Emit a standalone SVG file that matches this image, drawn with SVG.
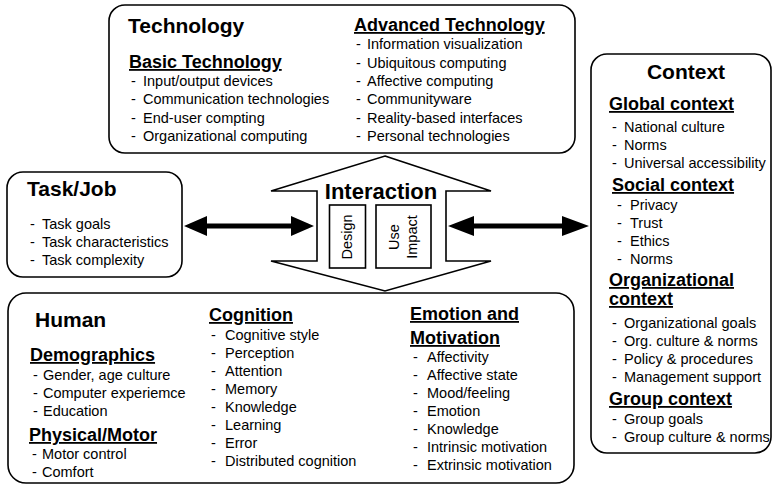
<svg xmlns="http://www.w3.org/2000/svg" width="773" height="486" viewBox="0 0 773 486">
  <style>
    .box { fill: #fff; stroke: #000; stroke-width: 1.6; }
    text { font-family: "Liberation Sans", Arial, Helvetica, sans-serif; fill: #000; }
    .h1 { font-size: 21px; font-weight: bold; }
    .h2 { font-size: 18px; font-weight: bold; text-decoration: underline; }
    .li { font-size: 14.5px; }
    .arrow { fill: #000; stroke: none; }
  </style>
  <rect width="773" height="486" fill="#fff"/>

  <!-- Technology -->
  <g id="technology">
    <rect class="box" x="109" y="5" width="466" height="148" rx="16"/>
    <text class="h1" x="128" y="33">Technology</text>
    <text class="h2" x="129" y="68">Basic Technology</text>
    <text class="li">
      <tspan x="131" y="86">-</tspan><tspan x="143">Input/output devices</tspan>
      <tspan x="131" y="104.3">-</tspan><tspan x="143">Communication technologies</tspan>
      <tspan x="131" y="122.6">-</tspan><tspan x="143">End-user compting</tspan>
      <tspan x="131" y="141">-</tspan><tspan x="143">Organizational computing</tspan>
    </text>
    <text class="h2" x="354" y="31">Advanced Technology</text>
    <text class="li">
      <tspan x="356" y="49.4">-</tspan><tspan x="367">Information visualization</tspan>
      <tspan x="356" y="67.7">-</tspan><tspan x="367">Ubiquitous computing</tspan>
      <tspan x="356" y="86">-</tspan><tspan x="367">Affective computing</tspan>
      <tspan x="356" y="104.3">-</tspan><tspan x="367">Communityware</tspan>
      <tspan x="356" y="122.6">-</tspan><tspan x="367">Reality-based interfaces</tspan>
      <tspan x="356" y="141">-</tspan><tspan x="367">Personal technologies</tspan>
    </text>
  </g>

  <!-- Task/Job -->
  <g id="task-job">
    <rect class="box" x="7" y="172" width="175" height="105" rx="16"/>
    <text class="h1" x="27" y="196">Task/Job</text>
    <text class="li">
      <tspan x="30" y="229">-</tspan><tspan x="42">Task goals</tspan>
      <tspan x="30" y="247">-</tspan><tspan x="42">Task characteristics</tspan>
      <tspan x="30" y="265">-</tspan><tspan x="42">Task complexity</tspan>
    </text>
  </g>

  <!-- Interaction -->
  <g id="interaction">
    <path class="box" d="M385,156 L491,191 L446,191 L446,261 L491,261 L385,291 L271,261 L317,261 L317,191 L271,191 Z"/>
    <text class="h1" x="381" y="199" text-anchor="middle" style="font-size:22px">Interaction</text>
    <rect class="box" x="329.5" y="205" width="36" height="63"/>
    <rect class="box" x="376" y="205" width="55" height="63"/>
    <text class="li" transform="translate(352,237) rotate(-90)" text-anchor="middle">Design</text>
    <text class="li" transform="translate(399,237) rotate(-90)" text-anchor="middle">Use</text>
    <text class="li" transform="translate(417,237) rotate(-90)" text-anchor="middle">Impact</text>
  </g>

  <!-- Context -->
  <g id="context">
    <rect class="box" x="591" y="54" width="180" height="399" rx="16"/>
    <text class="h1" x="686" y="79" text-anchor="middle">Context</text>
    <text class="h2" x="609" y="110">Global context</text>
    <text class="li">
      <tspan x="612" y="132">-</tspan><tspan x="624">National culture</tspan>
      <tspan x="612" y="150">-</tspan><tspan x="624">Norms</tspan>
      <tspan x="612" y="168">-</tspan><tspan x="624">Universal accessibility</tspan>
    </text>
    <text class="h2" x="612" y="191">Social context</text>
    <text class="li">
      <tspan x="617" y="210">-</tspan><tspan x="630">Privacy</tspan>
      <tspan x="617" y="228">-</tspan><tspan x="630">Trust</tspan>
      <tspan x="617" y="246">-</tspan><tspan x="630">Ethics</tspan>
      <tspan x="617" y="264">-</tspan><tspan x="630">Norms</tspan>
    </text>
    <text class="h2" x="609" y="286">Organizational</text>
    <text class="h2" x="609" y="305">context</text>
    <text class="li">
      <tspan x="612" y="328">-</tspan><tspan x="624">Organizational goals</tspan>
      <tspan x="612" y="346">-</tspan><tspan x="624">Org. culture &amp; norms</tspan>
      <tspan x="612" y="364">-</tspan><tspan x="624">Policy &amp; procedures</tspan>
      <tspan x="612" y="382">-</tspan><tspan x="624">Management support</tspan>
    </text>
    <text class="h2" x="609" y="405">Group context</text>
    <text class="li">
      <tspan x="612" y="424">-</tspan><tspan x="624">Group goals</tspan>
      <tspan x="612" y="442">-</tspan><tspan x="624">Group culture &amp; norms</tspan>
    </text>
  </g>

  <!-- Human -->
  <g id="human">
    <rect class="box" x="8" y="293" width="566" height="190" rx="18"/>
    <text class="h1" x="35" y="327">Human</text>
    <text class="h2" x="30" y="361">Demographics</text>
    <text class="li">
      <tspan x="33" y="380">-</tspan><tspan x="43">Gender, age culture</tspan>
      <tspan x="33" y="398">-</tspan><tspan x="43">Computer experiemce</tspan>
      <tspan x="33" y="416">-</tspan><tspan x="43">Education</tspan>
    </text>
    <text class="h2" x="29" y="441">Physical/Motor</text>
    <text class="li">
      <tspan x="32" y="459">-</tspan><tspan x="42">Motor control</tspan>
      <tspan x="32" y="477">-</tspan><tspan x="42">Comfort</tspan>
    </text>
    <text class="h2" x="209" y="321">Cognition</text>
    <text class="li">
      <tspan x="211" y="340">-</tspan><tspan x="225">Cognitive style</tspan>
      <tspan x="211" y="358">-</tspan><tspan x="225">Perception</tspan>
      <tspan x="211" y="376">-</tspan><tspan x="225">Attention</tspan>
      <tspan x="211" y="394">-</tspan><tspan x="225">Memory</tspan>
      <tspan x="211" y="412">-</tspan><tspan x="225">Knowledge</tspan>
      <tspan x="211" y="430">-</tspan><tspan x="225">Learning</tspan>
      <tspan x="211" y="448">-</tspan><tspan x="225">Error</tspan>
      <tspan x="211" y="466">-</tspan><tspan x="225">Distributed cognition</tspan>
    </text>
    <text class="h2" x="410" y="320">Emotion and</text>
    <text class="h2" x="410" y="344">Motivation</text>
    <text class="li">
      <tspan x="413" y="362">-</tspan><tspan x="427">Affectivity</tspan>
      <tspan x="413" y="380">-</tspan><tspan x="427">Affective state</tspan>
      <tspan x="413" y="398">-</tspan><tspan x="427">Mood/feeling</tspan>
      <tspan x="413" y="416">-</tspan><tspan x="427">Emotion</tspan>
      <tspan x="413" y="434">-</tspan><tspan x="427">Knowledge</tspan>
      <tspan x="413" y="452">-</tspan><tspan x="427">Intrinsic motivation</tspan>
      <tspan x="413" y="470">-</tspan><tspan x="427">Extrinsic motivation</tspan>
    </text>
  </g>

  <!-- Connectors: double-headed block arrows -->
  <g id="connectors">
    <path class="arrow" d="M184,226 L207,216 L207,223.5 L291,223.5 L291,216 L314,226 L291,236 L291,228.5 L207,228.5 L207,236 Z"/>
    <path class="arrow" d="M448,226 L474,216 L474,223.5 L562,223.5 L562,216 L589,226 L562,236 L562,228.5 L474,228.5 L474,236 Z"/>
  </g>
</svg>
